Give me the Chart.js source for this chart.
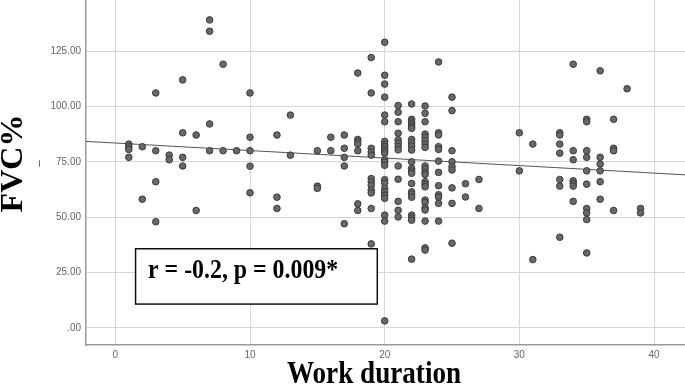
<!DOCTYPE html>
<html lang="en">
<head>
<meta charset="UTF-8">
<title>FVC% vs Work duration</title>
<script src="https://cdn.jsdelivr.net/npm/chart.js"></script>
<style>
  html, body { margin: 0; padding: 0; background: #fff; }
</style>
</head>
<body>
<canvas id="grafico" width="685" height="386"></canvas>
<script>
// work duration on the x axis, the FVC% values for each duration
const durations = [1, 2, 3, 4, 5, 6, 7, 8, 9, 10, 12, 13, 15, 16, 17, 18, 19, 20, 21, 22, 23, 24, 25, 26, 27, 30, 31, 33, 34, 35, 36, 37, 38, 39];
const fvcByDuration = [
    [83.1, 81.9, 80.7, 77.1],
    [81.9, 58.2],
    [106.2, 80.1, 66.1, 48.0],
    [78.1, 76.0],
    [112.1, 88.2, 77.1, 73.2],
    [87.2, 53.1],
    [139.2, 134.1, 92.2, 80.1],
    [119.2, 80.1],
    [80.1],
    [106.2, 86.2, 80.1, 73.1, 61.1],
    [87.2, 59.1, 54.0],
    [96.2, 78.1],
    [80.1, 64.1, 63.1],
    [86.2, 80.1],
    [87.2, 81.2, 77.1, 73.2, 47.1],
    [115.2, 85.2, 84.2, 83.1, 80.1, 56.1, 53.1],
    [122.2, 106.2, 81.2, 79.5, 78.1, 67.5, 66.0, 64.5, 62.3, 61.0, 54.0, 38.0],
    [129.1, 114.2, 110.2, 104.3, 96.2, 93.2, 84.3, 83.0, 82.0, 81.0, 80.0, 79.0, 76.0, 75.0, 73.5, 67.0, 65.5, 63.0, 61.5, 60.0, 58.6, 51.0, 48.3, 3.2],
    [100.5, 97.5, 93.2, 88.0, 85.0, 83.5, 82.0, 80.5, 73.2, 67.2, 57.2, 53.2, 50.2],
    [101.2, 94.3, 93.2, 92.2, 91.0, 90.2, 85.2, 83.7, 82.2, 80.4, 75.1, 72.1, 70.9, 69.9, 65.3, 61.5, 60.4, 59.1, 51.0, 49.8, 48.7, 31.1],
    [100.3, 97.0, 93.2, 87.6, 86.2, 84.6, 83.1, 81.6, 73.2, 71.9, 70.3, 69.4, 66.1, 64.9, 63.8, 57.8, 56.7, 54.3, 53.3, 48.3, 36.2, 35.2],
    [120.2, 88.2, 87.2, 81.9, 80.7, 75.4, 70.3, 64.3, 60.2, 59.1, 56.3, 48.3],
    [104.3, 98.2, 80.1, 75.1, 72.9, 71.4, 63.3, 56.3, 38.3],
    [65.2, 59.2],
    [67.1, 54.0],
    [88.2, 71.0],
    [83.1, 30.9],
    [88.2, 87.2, 83.1, 79.0, 67.1, 64.1, 41.0],
    [119.2, 80.1, 76.0, 66.5, 65.3, 64.1, 57.2],
    [94.3, 93.2, 80.1, 77.1, 71.0, 65.0, 54.0, 52.0, 49.0, 33.9],
    [116.2, 77.1, 74.1, 71.0, 66.1, 58.2],
    [94.3, 81.2, 80.1, 53.1],
    [108.1],
    [54.0, 52.0]
];

const xTicks = [0, 10, 20, 30, 40];
const yTicks = [0, 25, 50, 75, 100, 125];
const yTickLabels = ['.00', '25.00', '50.00', '75.00', '100.00', '125.00'];

// fit line, both ends read at the plot edges
const fitX = [-2.18, 42.3];
const fitY = [84.3, 69.2];

const statText = 'r = -0.2, p = 0.009*';

// build the point list
const pontos = [];
durations.forEach((d, i) => {
    fvcByDuration[i].forEach(v => pontos.push({ x: d, y: v }));
});

// no extra room around the plot: it runs to the top and right edges
function semPadding(s) {
    s.paddingTop = 0;
    s.paddingBottom = 0;
    s.paddingLeft = 0;
    s.paddingRight = 0;
}

// titles and the box with r and p
const textos = {
    id: 'textos',
    afterDatasetsDraw(chart) {
        const ctx = chart.ctx;
        const xs = chart.scales.x;
        const ys = chart.scales.y;

        // white box with the stats
        const bx1 = xs.getPixelForValue(1.5), bx2 = xs.getPixelForValue(19.45);
        const by1 = ys.getPixelForValue(35.8), by2 = ys.getPixelForValue(10.8);
        ctx.save();
        ctx.fillStyle = '#fff';
        ctx.fillRect(bx1, by1, bx2 - bx1, by2 - by1);
        ctx.strokeStyle = '#111';
        ctx.lineWidth = 1.5;
        ctx.strokeRect(bx1, by1, bx2 - bx1, by2 - by1);
        ctx.fillStyle = '#000';
        ctx.font = 'bold 26.5px "Liberation Serif", "Times New Roman", serif';
        ctx.textAlign = 'left';
        ctx.textBaseline = 'alphabetic';
        ctx.translate(bx1 + 12.5, ys.getPixelForValue(22.6));
        ctx.scale(0.9, 1);
        ctx.fillText(statText, 0, 0);
        ctx.restore();

        // x title
        ctx.save();
        ctx.fillStyle = '#000';
        ctx.font = 'bold 30.5px "Liberation Serif", "Times New Roman", serif';
        ctx.textAlign = 'center';
        ctx.textBaseline = 'alphabetic';
        ctx.translate(374, 383);
        ctx.scale(0.89, 1);
        ctx.fillText('Work duration', 0, 0);
        ctx.restore();

        // y title
        ctx.save();
        ctx.fillStyle = '#000';
        ctx.font = 'bold 32px "Liberation Serif", "Times New Roman", serif';
        ctx.textAlign = 'center';
        ctx.textBaseline = 'alphabetic';
        ctx.translate(22, 163.5);
        ctx.rotate(-Math.PI / 2);
        ctx.fillText('FVC%', 0, 0);
        ctx.restore();

        // small mark next to the y title
        ctx.save();
        ctx.fillStyle = '#333';
        ctx.font = '11px "Liberation Sans", Arial, sans-serif';
        ctx.textAlign = 'center';
        ctx.textBaseline = 'alphabetic';
        ctx.translate(38, 163.5);
        ctx.rotate(-Math.PI / 2);
        ctx.fillText('_', 0, 0);
        ctx.restore();
    }
};

new Chart(document.getElementById('grafico'), {
    type: 'scatter',
    data: {
        datasets: [
            {
                type: 'line',
                data: fitX.map((x, i) => ({ x: x, y: fitY[i] })),
                borderColor: '#555',
                borderWidth: 1,
                pointRadius: 0,
                fill: false,
                order: 2
            },
            {
                data: pontos,
                backgroundColor: '#686868',
                borderColor: '#3a3a3a',
                borderWidth: 1,
                pointRadius: 3.3,
                order: 1
            }
        ]
    },
    options: {
        responsive: false,
        animation: false,
        layout: { padding: 0, autoPadding: false },
        plugins: {
            legend: { display: false },
            tooltip: { enabled: false }
        },
        scales: {
            x: {
                type: 'linear',
                min: -2.18,
                max: 42.3,
                afterBuildTicks: s => { s.ticks = xTicks.map(v => ({ value: v })); },
                afterFit: s => { s.height = 41; semPadding(s); },
                grid: { color: '#d6d6d6', lineWidth: 1, drawTicks: false },
                border: { color: '#9a9a9a', width: 1.5 },
                ticks: {
                    padding: 4,
                    color: '#666',
                    font: { family: '"Liberation Sans", Arial, sans-serif', size: 10 }
                }
            },
            y: {
                min: -7.69,
                max: 148.2,
                afterBuildTicks: s => { s.ticks = yTicks.map(v => ({ value: v })); },
                afterFit: s => { s.width = 86; semPadding(s); },
                grid: { color: '#d6d6d6', lineWidth: 1, drawTicks: false },
                border: { color: '#9a9a9a', width: 1.5 },
                ticks: {
                    padding: 5,
                    color: '#666',
                    font: { family: '"Liberation Sans", Arial, sans-serif', size: 10 },
                    callback: v => yTickLabels[yTicks.indexOf(v)]
                }
            }
        }
    },
    plugins: [textos]
});
</script>
</body>
</html>
